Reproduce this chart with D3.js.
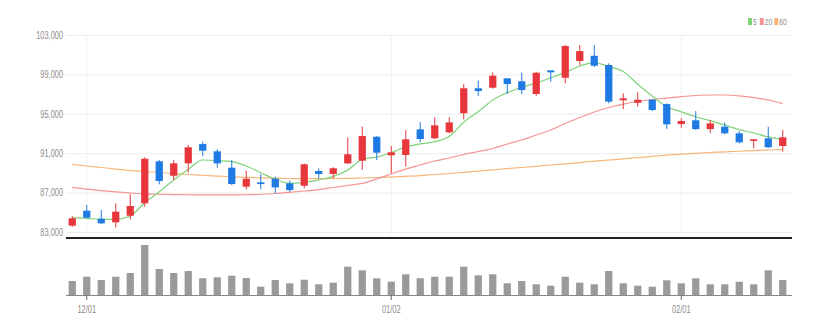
<!DOCTYPE html>
<html><head><meta charset="utf-8">
<script src="https://cdn.jsdelivr.net/npm/d3@7"></script>
<style>
html,body{margin:0;padding:0;background:#fff;}
svg{display:block;}
text{font-family:"Liberation Sans",Arial,sans-serif;}
</style></head>
<body><svg id="chart" width="830" height="331"></svg>
<script>
const dates = ["11/30","12/01","12/02","12/05","12/06","12/07","12/08","12/09","12/12","12/13","12/14","12/15","12/16","12/19","12/20","12/21","12/22","12/23","12/26","12/27","12/28","12/29","01/02","01/03","01/04","01/05","01/06","01/09","01/10","01/11","01/12","01/13","01/16","01/17","01/18","01/19","01/20","01/25","01/26","01/27","01/30","01/31","02/01","02/02","02/03","02/06","02/07","02/08","02/09","02/10"];
const openP  = [83640,85160,84350,83980,84650,85910,90180,88710,89970,91930,91190,89530,87600,88040,88410,87940,87700,89190,88890,89970,90240,92670,90790,90820,93420,92510,93120,95050,97590,97650,98600,98300,97010,99410,98660,100360,100890,99950,96370,96120,96430,95990,93960,94340,93450,93690,93020,92240,92510,91730];
const highP  = [84620,85740,85230,85910,86830,90580,90310,90310,91830,92170,91390,90310,89220,88860,88610,88210,89970,89470,89570,92610,93690,92740,91730,93350,94170,94640,94640,98020,98360,99210,98600,99170,99270,99410,101980,101980,101980,100120,97080,97180,96500,96060,94540,95280,94370,94130,93250,92440,93690,93350];
const lowP   = [83540,84390,83840,83480,84290,85570,87840,88280,89020,90710,89530,87770,87330,87360,86930,87060,87440,88450,88450,89900,89290,90310,88960,89630,92110,92410,93020,94440,96800,97550,97010,96980,96800,98250,98090,99950,99750,96060,95480,95720,95280,93450,93590,93350,93020,92920,92000,91500,91500,91150];
const closeP = [84390,84450,83880,85060,85640,90440,88180,89970,91600,91250,89970,87870,88410,87870,87530,87260,89870,88890,89470,90890,92740,91050,91090,92410,92440,93830,94130,97590,97310,98870,98020,97410,99170,99210,101880,101370,99880,96230,96570,96430,95380,93930,94270,93450,94030,93020,92100,92410,91600,92610];
const volume = [280000,366000,300000,366000,440000,1000000,520000,440000,480000,334000,354000,386000,340000,166000,300000,234000,306000,214000,246000,566000,494000,334000,266000,414000,334000,366000,366000,566000,394000,414000,234000,280000,214000,186000,366000,246000,214000,480000,234000,186000,166000,294000,234000,334000,214000,214000,266000,214000,494000,300000];
const ma5  = [84450,84390,84290,84290,84620,85970,87090,88280,89360,90310,90240,90140,89700,89020,88350,87940,88040,88300,88650,89280,90370,90610,91050,91640,91950,92170,92700,94150,95200,96400,97150,97700,98120,98650,99200,99850,100200,99800,99300,98000,96800,95710,95200,94700,94300,93850,93400,93050,92650,92400];
const ma20 = [87540,87360,87210,87080,86960,86880,86830,86800,86780,86760,86760,86760,86780,86830,86910,87030,87160,87310,87520,87720,87940,88380,88890,89390,89800,90210,90510,90870,91170,91480,91930,92340,92850,93350,94010,94620,95180,95640,95990,96250,96450,96600,96750,96860,96910,96910,96820,96650,96400,96040];
const ma60 = [89870,89700,89550,89390,89240,89140,89040,88940,88840,88760,88680,88610,88550,88500,88460,88430,88420,88420,88430,88450,88480,88520,88580,88650,88730,88840,88940,89060,89190,89310,89440,89550,89670,89800,89920,90050,90190,90310,90430,90560,90680,90800,90900,90990,91070,91140,91200,91260,91320,91370];
const priceTicks = [83000,87000,91000,95000,99000,103000];
const dateTicks = ["12/01","01/02","02/01"];
const legendNames = ["5","20","60"];

const UP = "#e8373c", DOWN = "#1f7ae3";
const maColors = ["#7fd37a","#f49494","#f6b67a"];
const SQUEEZE = 0.74;
function narrow(sel) {
  sel.each(function() {
    const L = this.getComputedTextLength();
    d3.select(this).attr("textLength", L * SQUEEZE).attr("lengthAdjust", "spacingAndGlyphs");
  });
}

const svg = d3.select("#chart");
const left = 66, right = 792;
const x = d3.scaleBand().domain(dates).range([65, 790]).paddingInner(0.5).paddingOuter(0.25);
const y = d3.scaleLinear().domain([83000, 103000]).range([232, 35]);
const yv = d3.scaleLinear().domain([0, 1000000]).range([295, 245]);
const cx = d => x(d) + x.bandwidth()/2;

// y grid + labels
const yAxis = d3.axisLeft(y).tickValues(priceTicks).tickFormat(d3.format(",")).tickSize(-(right-left)).tickPadding(3);
const gy = svg.append("g").attr("transform", `translate(${left},0)`).call(yAxis);
gy.select(".domain").remove();
gy.selectAll(".tick line").attr("stroke", "#ececec");
gy.selectAll(".tick text").attr("fill", "#8c8c8c").style("font-size", "10px").call(narrow);

// vertical grid at date ticks
svg.append("g").selectAll("line").data(dateTicks).join("line")
  .attr("x1", d => cx(d)).attr("x2", d => cx(d)).attr("y1", 35).attr("y2", 236)
  .attr("stroke", "#f0f0f0");

// MA lines
const idx = d3.range(dates.length);
[ma60, ma20, ma5].forEach((arr, k) => {
  const color = maColors[2-k];
  svg.append("path").datum(idx)
    .attr("fill", "none").attr("stroke", color).attr("stroke-width", 1.2)
    .attr("d", d3.line().x(i => cx(dates[i])).y(i => y(arr[i])).curve(d3.curveMonotoneX));
});

// candles
const cg = svg.append("g");
idx.forEach(i => {
  const col = closeP[i] >= openP[i] ? UP : DOWN;
  const xc = cx(dates[i]);
  cg.append("line").attr("x1", xc).attr("x2", xc).attr("y1", y(highP[i])).attr("y2", y(lowP[i]))
    .attr("stroke", col).attr("stroke-width", 1);
  const top = y(Math.max(openP[i], closeP[i])), bot = y(Math.min(openP[i], closeP[i]));
  cg.append("rect").attr("x", x(dates[i])).attr("width", x.bandwidth())
    .attr("y", top).attr("height", Math.max(1.5, bot-top)).attr("fill", col);
});

// divider
svg.append("line").attr("x1", left).attr("x2", right).attr("y1", 238).attr("y2", 238)
  .attr("stroke", "#222").attr("stroke-width", 2);

// volume
svg.append("g").selectAll("rect").data(idx).join("rect")
  .attr("x", i => x(dates[i])).attr("width", x.bandwidth())
  .attr("y", i => yv(volume[i])).attr("height", i => 295 - yv(volume[i]))
  .attr("fill", "#9a9a9a");

// x axis
const xAxis = d3.axisBottom(x).tickValues(dateTicks).tickSizeInner(5).tickSizeOuter(0).tickPadding(6);
const gx = svg.append("g").attr("transform", "translate(0,295)").call(xAxis);
gx.select(".domain").attr("d", `M${left},0.5H${right}`).attr("stroke", "#888");
gx.selectAll(".tick line").attr("stroke", "#666");
gx.selectAll(".tick text").attr("fill", "#8c8c8c").style("font-size", "10px").call(narrow);

// legend
const lg = svg.append("g").attr("transform", "translate(748,18)");
let lx = 0;
legendNames.forEach((n, k) => {
  lg.append("rect").attr("x", lx).attr("y", 0).attr("width", 4).attr("height", 7).attr("fill", maColors[k]);
  const t = lg.append("text").attr("x", lx + 5).attr("y", 7).attr("fill", "#8c8c8c").style("font-size", "9px").text(n);
  t.call(narrow);
  lx += 5 + t.node().getComputedTextLength() * SQUEEZE + 4;
});
</script></body></html>
